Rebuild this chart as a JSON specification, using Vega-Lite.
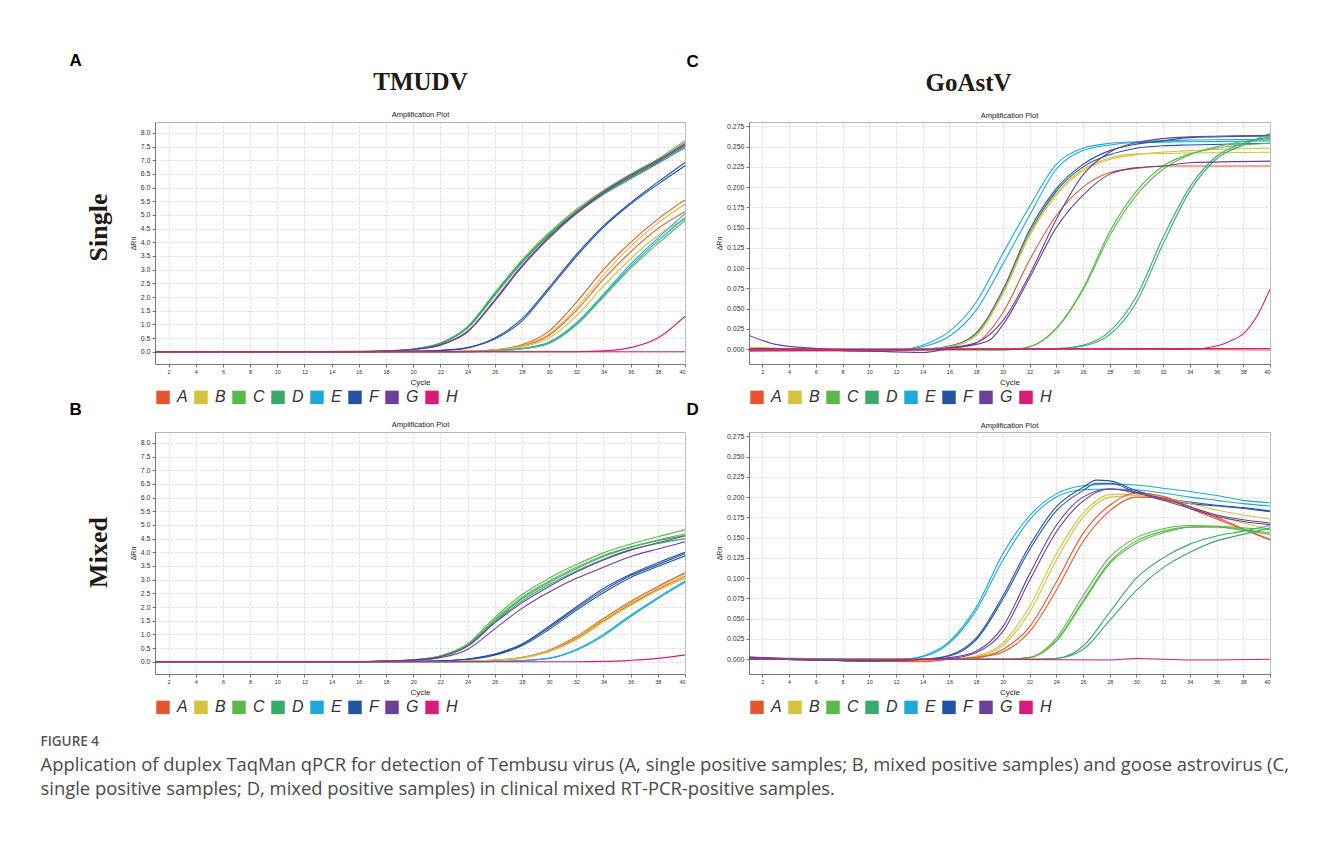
{
"$schema": "https://vega.github.io/schema/vega-lite/v6.json",
"background": "white",
"padding": {"left": 40, "top": 50, "right": 20, "bottom": 20},
"bounds": "flush",
"columns": 2,
"spacing": {"row": 68, "column": 64},
"title": {"text": "FIGURE 4", "subtitle": ["Application of duplex TaqMan qPCR for detection of Tembusu virus (A, single positive samples; B, mixed positive samples) and goose astrovirus (C,", "single positive samples; D, mixed positive samples) in clinical mixed RT-PCR-positive samples."], "orient": "bottom", "anchor": "start", "frame": "bounds", "dx": -28, "font": "Open Sans", "fontSize": 13.5, "fontWeight": 600, "color": "#555", "subtitleFont": "Open Sans", "subtitleFontSize": 18.4, "subtitleColor": "#4a4a4a", "subtitleLineHeight": 24, "subtitlePadding": 8, "offset": 9},
"datasets": {
"tA": [
{"s":"C1","g":"C","c":1,"y":0},{"s":"C1","g":"C","c":12,"y":0},{"s":"C1","g":"C","c":18,"y":0.03},{"s":"C1","g":"C","c":20,"y":0.1},{"s":"C1","g":"C","c":22,"y":0.32},{"s":"C1","g":"C","c":24,"y":0.92},{"s":"C1","g":"C","c":26,"y":2.15},{"s":"C1","g":"C","c":28,"y":3.35},{"s":"C1","g":"C","c":30,"y":4.35},{"s":"C1","g":"C","c":32,"y":5.2},{"s":"C1","g":"C","c":34,"y":5.9},{"s":"C1","g":"C","c":36,"y":6.5},{"s":"C1","g":"C","c":38,"y":7.05},{"s":"C1","g":"C","c":40,"y":7.72},
{"s":"C2","g":"C","c":1,"y":0},{"s":"C2","g":"C","c":16,"y":0},{"s":"C2","g":"C","c":18,"y":0.03},{"s":"C2","g":"C","c":20,"y":0.09},{"s":"C2","g":"C","c":22,"y":0.3},{"s":"C2","g":"C","c":24,"y":0.88},{"s":"C2","g":"C","c":26,"y":2.1},{"s":"C2","g":"C","c":28,"y":3.3},{"s":"C2","g":"C","c":30,"y":4.3},{"s":"C2","g":"C","c":32,"y":5.15},{"s":"C2","g":"C","c":34,"y":5.85},{"s":"C2","g":"C","c":36,"y":6.45},{"s":"C2","g":"C","c":38,"y":7.0},{"s":"C2","g":"C","c":40,"y":7.65},
{"s":"D1","g":"D","c":1,"y":0},{"s":"D1","g":"D","c":16,"y":0},{"s":"D1","g":"D","c":18,"y":0.03},{"s":"D1","g":"D","c":20,"y":0.1},{"s":"D1","g":"D","c":22,"y":0.31},{"s":"D1","g":"D","c":24,"y":0.9},{"s":"D1","g":"D","c":26,"y":2.12},{"s":"D1","g":"D","c":28,"y":3.3},{"s":"D1","g":"D","c":30,"y":4.28},{"s":"D1","g":"D","c":32,"y":5.1},{"s":"D1","g":"D","c":34,"y":5.78},{"s":"D1","g":"D","c":36,"y":6.35},{"s":"D1","g":"D","c":38,"y":6.9},{"s":"D1","g":"D","c":40,"y":7.45},
{"s":"D2","g":"D","c":1,"y":0},{"s":"D2","g":"D","c":16,"y":0},{"s":"D2","g":"D","c":18,"y":0.02},{"s":"D2","g":"D","c":20,"y":0.09},{"s":"D2","g":"D","c":22,"y":0.29},{"s":"D2","g":"D","c":24,"y":0.86},{"s":"D2","g":"D","c":26,"y":2.05},{"s":"D2","g":"D","c":28,"y":3.25},{"s":"D2","g":"D","c":30,"y":4.25},{"s":"D2","g":"D","c":32,"y":5.05},{"s":"D2","g":"D","c":34,"y":5.75},{"s":"D2","g":"D","c":36,"y":6.32},{"s":"D2","g":"D","c":38,"y":6.88},{"s":"D2","g":"D","c":40,"y":7.5},
{"s":"G1","g":"G","c":1,"y":0},{"s":"G1","g":"G","c":16,"y":0},{"s":"G1","g":"G","c":18,"y":0.02},{"s":"G1","g":"G","c":20,"y":0.08},{"s":"G1","g":"G","c":22,"y":0.25},{"s":"G1","g":"G","c":24,"y":0.75},{"s":"G1","g":"G","c":26,"y":1.9},{"s":"G1","g":"G","c":28,"y":3.15},{"s":"G1","g":"G","c":30,"y":4.2},{"s":"G1","g":"G","c":32,"y":5.1},{"s":"G1","g":"G","c":34,"y":5.85},{"s":"G1","g":"G","c":36,"y":6.45},{"s":"G1","g":"G","c":38,"y":7.0},{"s":"G1","g":"G","c":40,"y":7.6},
{"s":"G2","g":"G","c":1,"y":0},{"s":"G2","g":"G","c":16,"y":0},{"s":"G2","g":"G","c":18,"y":0.02},{"s":"G2","g":"G","c":20,"y":0.08},{"s":"G2","g":"G","c":22,"y":0.24},{"s":"G2","g":"G","c":24,"y":0.72},{"s":"G2","g":"G","c":26,"y":1.85},{"s":"G2","g":"G","c":28,"y":3.1},{"s":"G2","g":"G","c":30,"y":4.15},{"s":"G2","g":"G","c":32,"y":5.05},{"s":"G2","g":"G","c":34,"y":5.8},{"s":"G2","g":"G","c":36,"y":6.4},{"s":"G2","g":"G","c":38,"y":6.95},{"s":"G2","g":"G","c":40,"y":7.55},
{"s":"F1","g":"F","c":1,"y":0},{"s":"F1","g":"F","c":18,"y":0},{"s":"F1","g":"F","c":20,"y":0.02},{"s":"F1","g":"F","c":22,"y":0.05},{"s":"F1","g":"F","c":24,"y":0.15},{"s":"F1","g":"F","c":26,"y":0.5},{"s":"F1","g":"F","c":28,"y":1.2},{"s":"F1","g":"F","c":30,"y":2.35},{"s":"F1","g":"F","c":32,"y":3.55},{"s":"F1","g":"F","c":34,"y":4.6},{"s":"F1","g":"F","c":36,"y":5.45},{"s":"F1","g":"F","c":38,"y":6.2},{"s":"F1","g":"F","c":40,"y":6.92},
{"s":"F2","g":"F","c":1,"y":0},{"s":"F2","g":"F","c":18,"y":0},{"s":"F2","g":"F","c":20,"y":0.02},{"s":"F2","g":"F","c":22,"y":0.04},{"s":"F2","g":"F","c":24,"y":0.14},{"s":"F2","g":"F","c":26,"y":0.46},{"s":"F2","g":"F","c":28,"y":1.12},{"s":"F2","g":"F","c":30,"y":2.28},{"s":"F2","g":"F","c":32,"y":3.48},{"s":"F2","g":"F","c":34,"y":4.55},{"s":"F2","g":"F","c":36,"y":5.4},{"s":"F2","g":"F","c":38,"y":6.12},{"s":"F2","g":"F","c":40,"y":6.8},
{"s":"A1","g":"A","c":1,"y":0},{"s":"A1","g":"A","c":22,"y":0},{"s":"A1","g":"A","c":24,"y":0.02},{"s":"A1","g":"A","c":26,"y":0.07},{"s":"A1","g":"A","c":28,"y":0.25},{"s":"A1","g":"A","c":30,"y":0.75},{"s":"A1","g":"A","c":32,"y":1.8},{"s":"A1","g":"A","c":34,"y":3.0},{"s":"A1","g":"A","c":36,"y":4.0},{"s":"A1","g":"A","c":38,"y":4.85},{"s":"A1","g":"A","c":40,"y":5.55},
{"s":"A2","g":"A","c":1,"y":0},{"s":"A2","g":"A","c":22,"y":0},{"s":"A2","g":"A","c":24,"y":0.02},{"s":"A2","g":"A","c":26,"y":0.06},{"s":"A2","g":"A","c":28,"y":0.2},{"s":"A2","g":"A","c":30,"y":0.6},{"s":"A2","g":"A","c":32,"y":1.5},{"s":"A2","g":"A","c":34,"y":2.65},{"s":"A2","g":"A","c":36,"y":3.65},{"s":"A2","g":"A","c":38,"y":4.5},{"s":"A2","g":"A","c":40,"y":5.12},
{"s":"B1","g":"B","c":1,"y":0},{"s":"B1","g":"B","c":22,"y":0},{"s":"B1","g":"B","c":24,"y":0.02},{"s":"B1","g":"B","c":26,"y":0.06},{"s":"B1","g":"B","c":28,"y":0.22},{"s":"B1","g":"B","c":30,"y":0.65},{"s":"B1","g":"B","c":32,"y":1.6},{"s":"B1","g":"B","c":34,"y":2.8},{"s":"B1","g":"B","c":36,"y":3.85},{"s":"B1","g":"B","c":38,"y":4.7},{"s":"B1","g":"B","c":40,"y":5.4},
{"s":"B2","g":"B","c":1,"y":0},{"s":"B2","g":"B","c":24,"y":0},{"s":"B2","g":"B","c":26,"y":0.05},{"s":"B2","g":"B","c":28,"y":0.18},{"s":"B2","g":"B","c":30,"y":0.5},{"s":"B2","g":"B","c":32,"y":1.3},{"s":"B2","g":"B","c":34,"y":2.4},{"s":"B2","g":"B","c":36,"y":3.4},{"s":"B2","g":"B","c":38,"y":4.25},{"s":"B2","g":"B","c":40,"y":4.85},
{"s":"E1","g":"E","c":1,"y":0},{"s":"E1","g":"E","c":24,"y":0},{"s":"E1","g":"E","c":26,"y":0.04},{"s":"E1","g":"E","c":28,"y":0.12},{"s":"E1","g":"E","c":30,"y":0.35},{"s":"E1","g":"E","c":32,"y":1.05},{"s":"E1","g":"E","c":34,"y":2.1},{"s":"E1","g":"E","c":36,"y":3.2},{"s":"E1","g":"E","c":38,"y":4.15},{"s":"E1","g":"E","c":40,"y":5.05},
{"s":"E2","g":"E","c":1,"y":0},{"s":"E2","g":"E","c":24,"y":0},{"s":"E2","g":"E","c":26,"y":0.04},{"s":"E2","g":"E","c":28,"y":0.11},{"s":"E2","g":"E","c":30,"y":0.33},{"s":"E2","g":"E","c":32,"y":1.0},{"s":"E2","g":"E","c":34,"y":2.05},{"s":"E2","g":"E","c":36,"y":3.12},{"s":"E2","g":"E","c":38,"y":4.05},{"s":"E2","g":"E","c":40,"y":4.9},
{"s":"C3","g":"C","c":1,"y":0},{"s":"C3","g":"C","c":24,"y":0},{"s":"C3","g":"C","c":26,"y":0.03},{"s":"C3","g":"C","c":28,"y":0.1},{"s":"C3","g":"C","c":30,"y":0.3},{"s":"C3","g":"C","c":32,"y":0.97},{"s":"C3","g":"C","c":34,"y":2.0},{"s":"C3","g":"C","c":36,"y":3.05},{"s":"C3","g":"C","c":38,"y":3.95},{"s":"C3","g":"C","c":40,"y":4.8},
{"s":"H1","g":"H","c":1,"y":0},{"s":"H1","g":"H","c":32,"y":0},{"s":"H1","g":"H","c":34,"y":0.03},{"s":"H1","g":"H","c":36,"y":0.15},{"s":"H1","g":"H","c":38,"y":0.5},{"s":"H1","g":"H","c":40,"y":1.3},
{"s":"H2","g":"H","c":1,"y":0},{"s":"H2","g":"H","c":40,"y":0},
{"s":"A3","g":"A","c":1,"y":0},{"s":"A3","g":"A","c":18,"y":0}
],
"tB": [
{"s":"C1","g":"C","c":1,"y":0},{"s":"C1","g":"C","c":16,"y":0},{"s":"C1","g":"C","c":18,"y":0.03},{"s":"C1","g":"C","c":20,"y":0.07},{"s":"C1","g":"C","c":22,"y":0.22},{"s":"C1","g":"C","c":24,"y":0.65},{"s":"C1","g":"C","c":26,"y":1.62},{"s":"C1","g":"C","c":28,"y":2.45},{"s":"C1","g":"C","c":30,"y":3.05},{"s":"C1","g":"C","c":32,"y":3.55},{"s":"C1","g":"C","c":34,"y":3.98},{"s":"C1","g":"C","c":36,"y":4.3},{"s":"C1","g":"C","c":38,"y":4.57},{"s":"C1","g":"C","c":40,"y":4.82},
{"s":"C2","g":"C","c":1,"y":0},{"s":"C2","g":"C","c":16,"y":0},{"s":"C2","g":"C","c":18,"y":0.03},{"s":"C2","g":"C","c":20,"y":0.07},{"s":"C2","g":"C","c":22,"y":0.21},{"s":"C2","g":"C","c":24,"y":0.62},{"s":"C2","g":"C","c":26,"y":1.55},{"s":"C2","g":"C","c":28,"y":2.35},{"s":"C2","g":"C","c":30,"y":2.95},{"s":"C2","g":"C","c":32,"y":3.45},{"s":"C2","g":"C","c":34,"y":3.88},{"s":"C2","g":"C","c":36,"y":4.2},{"s":"C2","g":"C","c":38,"y":4.45},{"s":"C2","g":"C","c":40,"y":4.68},
{"s":"D1","g":"D","c":1,"y":0},{"s":"D1","g":"D","c":16,"y":0},{"s":"D1","g":"D","c":18,"y":0.02},{"s":"D1","g":"D","c":20,"y":0.07},{"s":"D1","g":"D","c":22,"y":0.2},{"s":"D1","g":"D","c":24,"y":0.6},{"s":"D1","g":"D","c":26,"y":1.5},{"s":"D1","g":"D","c":28,"y":2.3},{"s":"D1","g":"D","c":30,"y":2.9},{"s":"D1","g":"D","c":32,"y":3.4},{"s":"D1","g":"D","c":34,"y":3.85},{"s":"D1","g":"D","c":36,"y":4.18},{"s":"D1","g":"D","c":38,"y":4.42},{"s":"D1","g":"D","c":40,"y":4.62},
{"s":"D2","g":"D","c":1,"y":0},{"s":"D2","g":"D","c":16,"y":0},{"s":"D2","g":"D","c":18,"y":0.02},{"s":"D2","g":"D","c":20,"y":0.06},{"s":"D2","g":"D","c":22,"y":0.19},{"s":"D2","g":"D","c":24,"y":0.58},{"s":"D2","g":"D","c":26,"y":1.45},{"s":"D2","g":"D","c":28,"y":2.22},{"s":"D2","g":"D","c":30,"y":2.82},{"s":"D2","g":"D","c":32,"y":3.32},{"s":"D2","g":"D","c":34,"y":3.75},{"s":"D2","g":"D","c":36,"y":4.1},{"s":"D2","g":"D","c":38,"y":4.32},{"s":"D2","g":"D","c":40,"y":4.5},
{"s":"G1","g":"G","c":1,"y":0},{"s":"G1","g":"G","c":16,"y":0},{"s":"G1","g":"G","c":18,"y":0.02},{"s":"G1","g":"G","c":20,"y":0.06},{"s":"G1","g":"G","c":22,"y":0.18},{"s":"G1","g":"G","c":24,"y":0.56},{"s":"G1","g":"G","c":26,"y":1.42},{"s":"G1","g":"G","c":28,"y":2.15},{"s":"G1","g":"G","c":30,"y":2.75},{"s":"G1","g":"G","c":32,"y":3.28},{"s":"G1","g":"G","c":34,"y":3.72},{"s":"G1","g":"G","c":36,"y":4.08},{"s":"G1","g":"G","c":38,"y":4.35},{"s":"G1","g":"G","c":40,"y":4.6},
{"s":"G2","g":"G","c":1,"y":0},{"s":"G2","g":"G","c":16,"y":0},{"s":"G2","g":"G","c":18,"y":0.02},{"s":"G2","g":"G","c":20,"y":0.05},{"s":"G2","g":"G","c":22,"y":0.15},{"s":"G2","g":"G","c":24,"y":0.45},{"s":"G2","g":"G","c":26,"y":1.2},{"s":"G2","g":"G","c":28,"y":1.95},{"s":"G2","g":"G","c":30,"y":2.55},{"s":"G2","g":"G","c":32,"y":3.05},{"s":"G2","g":"G","c":34,"y":3.45},{"s":"G2","g":"G","c":36,"y":3.85},{"s":"G2","g":"G","c":38,"y":4.12},{"s":"G2","g":"G","c":40,"y":4.38},
{"s":"F1","g":"F","c":1,"y":0},{"s":"F1","g":"F","c":18,"y":0},{"s":"F1","g":"F","c":20,"y":0.01},{"s":"F1","g":"F","c":22,"y":0.03},{"s":"F1","g":"F","c":24,"y":0.1},{"s":"F1","g":"F","c":26,"y":0.28},{"s":"F1","g":"F","c":28,"y":0.65},{"s":"F1","g":"F","c":30,"y":1.3},{"s":"F1","g":"F","c":32,"y":2.0},{"s":"F1","g":"F","c":34,"y":2.68},{"s":"F1","g":"F","c":36,"y":3.2},{"s":"F1","g":"F","c":38,"y":3.62},{"s":"F1","g":"F","c":40,"y":4.0},
{"s":"F2","g":"F","c":1,"y":0},{"s":"F2","g":"F","c":18,"y":0},{"s":"F2","g":"F","c":20,"y":0.01},{"s":"F2","g":"F","c":22,"y":0.03},{"s":"F2","g":"F","c":24,"y":0.09},{"s":"F2","g":"F","c":26,"y":0.26},{"s":"F2","g":"F","c":28,"y":0.62},{"s":"F2","g":"F","c":30,"y":1.25},{"s":"F2","g":"F","c":32,"y":1.95},{"s":"F2","g":"F","c":34,"y":2.6},{"s":"F2","g":"F","c":36,"y":3.15},{"s":"F2","g":"F","c":38,"y":3.55},{"s":"F2","g":"F","c":40,"y":3.95},
{"s":"F3","g":"F","c":1,"y":0},{"s":"F3","g":"F","c":18,"y":0},{"s":"F3","g":"F","c":20,"y":0.01},{"s":"F3","g":"F","c":22,"y":0.03},{"s":"F3","g":"F","c":24,"y":0.08},{"s":"F3","g":"F","c":26,"y":0.24},{"s":"F3","g":"F","c":28,"y":0.58},{"s":"F3","g":"F","c":30,"y":1.18},{"s":"F3","g":"F","c":32,"y":1.88},{"s":"F3","g":"F","c":34,"y":2.52},{"s":"F3","g":"F","c":36,"y":3.08},{"s":"F3","g":"F","c":38,"y":3.48},{"s":"F3","g":"F","c":40,"y":3.87},
{"s":"A1","g":"A","c":1,"y":0},{"s":"A1","g":"A","c":22,"y":0},{"s":"A1","g":"A","c":24,"y":0.02},{"s":"A1","g":"A","c":26,"y":0.06},{"s":"A1","g":"A","c":28,"y":0.16},{"s":"A1","g":"A","c":30,"y":0.42},{"s":"A1","g":"A","c":32,"y":0.92},{"s":"A1","g":"A","c":34,"y":1.58},{"s":"A1","g":"A","c":36,"y":2.2},{"s":"A1","g":"A","c":38,"y":2.75},{"s":"A1","g":"A","c":40,"y":3.25},
{"s":"A2","g":"A","c":1,"y":0},{"s":"A2","g":"A","c":22,"y":0},{"s":"A2","g":"A","c":24,"y":0.02},{"s":"A2","g":"A","c":26,"y":0.05},{"s":"A2","g":"A","c":28,"y":0.14},{"s":"A2","g":"A","c":30,"y":0.38},{"s":"A2","g":"A","c":32,"y":0.85},{"s":"A2","g":"A","c":34,"y":1.5},{"s":"A2","g":"A","c":36,"y":2.1},{"s":"A2","g":"A","c":38,"y":2.65},{"s":"A2","g":"A","c":40,"y":3.12},
{"s":"B1","g":"B","c":1,"y":0},{"s":"B1","g":"B","c":22,"y":0},{"s":"B1","g":"B","c":24,"y":0.02},{"s":"B1","g":"B","c":26,"y":0.05},{"s":"B1","g":"B","c":28,"y":0.15},{"s":"B1","g":"B","c":30,"y":0.4},{"s":"B1","g":"B","c":32,"y":0.88},{"s":"B1","g":"B","c":34,"y":1.53},{"s":"B1","g":"B","c":36,"y":2.15},{"s":"B1","g":"B","c":38,"y":2.7},{"s":"B1","g":"B","c":40,"y":3.2},
{"s":"B2","g":"B","c":1,"y":0},{"s":"B2","g":"B","c":22,"y":0},{"s":"B2","g":"B","c":24,"y":0.02},{"s":"B2","g":"B","c":26,"y":0.05},{"s":"B2","g":"B","c":28,"y":0.13},{"s":"B2","g":"B","c":30,"y":0.36},{"s":"B2","g":"B","c":32,"y":0.8},{"s":"B2","g":"B","c":34,"y":1.45},{"s":"B2","g":"B","c":36,"y":2.05},{"s":"B2","g":"B","c":38,"y":2.6},{"s":"B2","g":"B","c":40,"y":3.05},
{"s":"E1","g":"E","c":1,"y":0},{"s":"E1","g":"E","c":24,"y":0},{"s":"E1","g":"E","c":26,"y":0.01},{"s":"E1","g":"E","c":28,"y":0.04},{"s":"E1","g":"E","c":30,"y":0.13},{"s":"E1","g":"E","c":32,"y":0.45},{"s":"E1","g":"E","c":34,"y":1.0},{"s":"E1","g":"E","c":36,"y":1.7},{"s":"E1","g":"E","c":38,"y":2.35},{"s":"E1","g":"E","c":40,"y":2.95},
{"s":"E2","g":"E","c":1,"y":0},{"s":"E2","g":"E","c":24,"y":0},{"s":"E2","g":"E","c":26,"y":0.01},{"s":"E2","g":"E","c":28,"y":0.04},{"s":"E2","g":"E","c":30,"y":0.12},{"s":"E2","g":"E","c":32,"y":0.42},{"s":"E2","g":"E","c":34,"y":0.95},{"s":"E2","g":"E","c":36,"y":1.65},{"s":"E2","g":"E","c":38,"y":2.3},{"s":"E2","g":"E","c":40,"y":2.9},
{"s":"H1","g":"H","c":1,"y":0},{"s":"H1","g":"H","c":32,"y":0},{"s":"H1","g":"H","c":34,"y":0.01},{"s":"H1","g":"H","c":36,"y":0.05},{"s":"H1","g":"H","c":38,"y":0.12},{"s":"H1","g":"H","c":40,"y":0.25},
{"s":"A3","g":"A","c":1,"y":0},{"s":"A3","g":"A","c":18,"y":0}
],
"tC": [
{"s":"E1","g":"E","c":1,"y":0.002},{"s":"E1","g":"E","c":6,"y":0},{"s":"E1","g":"E","c":10,"y":-0.002},{"s":"E1","g":"E","c":12,"y":-0.001},{"s":"E1","g":"E","c":14,"y":0.005},{"s":"E1","g":"E","c":16,"y":0.022},{"s":"E1","g":"E","c":18,"y":0.058},{"s":"E1","g":"E","c":20,"y":0.118},{"s":"E1","g":"E","c":22,"y":0.176},{"s":"E1","g":"E","c":24,"y":0.228},{"s":"E1","g":"E","c":26,"y":0.248},{"s":"E1","g":"E","c":28,"y":0.254},{"s":"E1","g":"E","c":30,"y":0.256},{"s":"E1","g":"E","c":34,"y":0.258},{"s":"E1","g":"E","c":40,"y":0.259},
{"s":"E2","g":"E","c":1,"y":0.001},{"s":"E2","g":"E","c":10,"y":-0.002},{"s":"E2","g":"E","c":12,"y":-0.001},{"s":"E2","g":"E","c":14,"y":0.003},{"s":"E2","g":"E","c":16,"y":0.016},{"s":"E2","g":"E","c":18,"y":0.048},{"s":"E2","g":"E","c":20,"y":0.105},{"s":"E2","g":"E","c":22,"y":0.165},{"s":"E2","g":"E","c":24,"y":0.222},{"s":"E2","g":"E","c":26,"y":0.245},{"s":"E2","g":"E","c":28,"y":0.252},{"s":"E2","g":"E","c":30,"y":0.255},{"s":"E2","g":"E","c":34,"y":0.256},{"s":"E2","g":"E","c":40,"y":0.257},
{"s":"F1","g":"F","c":1,"y":0.001},{"s":"F1","g":"F","c":10,"y":-0.002},{"s":"F1","g":"F","c":14,"y":0},{"s":"F1","g":"F","c":16,"y":0.004},{"s":"F1","g":"F","c":18,"y":0.02},{"s":"F1","g":"F","c":20,"y":0.073},{"s":"F1","g":"F","c":22,"y":0.147},{"s":"F1","g":"F","c":24,"y":0.198},{"s":"F1","g":"F","c":26,"y":0.228},{"s":"F1","g":"F","c":28,"y":0.245},{"s":"F1","g":"F","c":30,"y":0.253},{"s":"F1","g":"F","c":32,"y":0.257},{"s":"F1","g":"F","c":34,"y":0.261},{"s":"F1","g":"F","c":40,"y":0.263},
{"s":"F2","g":"F","c":1,"y":0.001},{"s":"F2","g":"F","c":10,"y":-0.002},{"s":"F2","g":"F","c":14,"y":0},{"s":"F2","g":"F","c":16,"y":0.003},{"s":"F2","g":"F","c":18,"y":0.018},{"s":"F2","g":"F","c":20,"y":0.07},{"s":"F2","g":"F","c":22,"y":0.143},{"s":"F2","g":"F","c":24,"y":0.195},{"s":"F2","g":"F","c":26,"y":0.225},{"s":"F2","g":"F","c":28,"y":0.24},{"s":"F2","g":"F","c":30,"y":0.248},{"s":"F2","g":"F","c":32,"y":0.251},{"s":"F2","g":"F","c":34,"y":0.252},{"s":"F2","g":"F","c":40,"y":0.254},
{"s":"B1","g":"B","c":1,"y":0.002},{"s":"B1","g":"B","c":10,"y":-0.001},{"s":"B1","g":"B","c":14,"y":0},{"s":"B1","g":"B","c":16,"y":0.003},{"s":"B1","g":"B","c":18,"y":0.018},{"s":"B1","g":"B","c":20,"y":0.07},{"s":"B1","g":"B","c":22,"y":0.142},{"s":"B1","g":"B","c":24,"y":0.192},{"s":"B1","g":"B","c":26,"y":0.222},{"s":"B1","g":"B","c":28,"y":0.236},{"s":"B1","g":"B","c":30,"y":0.241},{"s":"B1","g":"B","c":34,"y":0.242},{"s":"B1","g":"B","c":40,"y":0.243},
{"s":"B2","g":"B","c":1,"y":0.002},{"s":"B2","g":"B","c":10,"y":-0.001},{"s":"B2","g":"B","c":14,"y":0},{"s":"B2","g":"B","c":16,"y":0.003},{"s":"B2","g":"B","c":18,"y":0.017},{"s":"B2","g":"B","c":20,"y":0.068},{"s":"B2","g":"B","c":22,"y":0.14},{"s":"B2","g":"B","c":24,"y":0.19},{"s":"B2","g":"B","c":26,"y":0.22},{"s":"B2","g":"B","c":28,"y":0.234},{"s":"B2","g":"B","c":30,"y":0.24},{"s":"B2","g":"B","c":34,"y":0.245},{"s":"B2","g":"B","c":40,"y":0.248},
{"s":"A1","g":"A","c":1,"y":-0.002},{"s":"A1","g":"A","c":10,"y":-0.002},{"s":"A1","g":"A","c":14,"y":0},{"s":"A1","g":"A","c":16,"y":0.001},{"s":"A1","g":"A","c":18,"y":0.008},{"s":"A1","g":"A","c":20,"y":0.045},{"s":"A1","g":"A","c":22,"y":0.11},{"s":"A1","g":"A","c":24,"y":0.165},{"s":"A1","g":"A","c":26,"y":0.2},{"s":"A1","g":"A","c":28,"y":0.218},{"s":"A1","g":"A","c":30,"y":0.223},{"s":"A1","g":"A","c":32,"y":0.226},{"s":"A1","g":"A","c":40,"y":0.226},
{"s":"G1","g":"G","c":1,"y":0.017},{"s":"G1","g":"G","c":3,"y":0.006},{"s":"G1","g":"G","c":6,"y":0.001},{"s":"G1","g":"G","c":10,"y":-0.002},{"s":"G1","g":"G","c":14,"y":-0.004},{"s":"G1","g":"G","c":16,"y":0.001},{"s":"G1","g":"G","c":18,"y":0.006},{"s":"G1","g":"G","c":19,"y":0.011},{"s":"G1","g":"G","c":20,"y":0.03},{"s":"G1","g":"G","c":22,"y":0.088},{"s":"G1","g":"G","c":24,"y":0.15},{"s":"G1","g":"G","c":26,"y":0.19},{"s":"G1","g":"G","c":28,"y":0.216},{"s":"G1","g":"G","c":30,"y":0.224},{"s":"G1","g":"G","c":32,"y":0.226},{"s":"G1","g":"G","c":34,"y":0.23},{"s":"G1","g":"G","c":40,"y":0.232},
{"s":"G2","g":"G","c":1,"y":0.001},{"s":"G2","g":"G","c":14,"y":-0.001},{"s":"G2","g":"G","c":16,"y":0.002},{"s":"G2","g":"G","c":18,"y":0.008},{"s":"G2","g":"G","c":20,"y":0.035},{"s":"G2","g":"G","c":22,"y":0.092},{"s":"G2","g":"G","c":24,"y":0.16},{"s":"G2","g":"G","c":26,"y":0.215},{"s":"G2","g":"G","c":28,"y":0.243},{"s":"G2","g":"G","c":30,"y":0.255},{"s":"G2","g":"G","c":34,"y":0.262},{"s":"G2","g":"G","c":40,"y":0.264},
{"s":"C1","g":"C","c":1,"y":0},{"s":"C1","g":"C","c":20,"y":-0.001},{"s":"C1","g":"C","c":22,"y":0.003},{"s":"C1","g":"C","c":24,"y":0.026},{"s":"C1","g":"C","c":26,"y":0.075},{"s":"C1","g":"C","c":28,"y":0.145},{"s":"C1","g":"C","c":30,"y":0.195},{"s":"C1","g":"C","c":32,"y":0.226},{"s":"C1","g":"C","c":34,"y":0.241},{"s":"C1","g":"C","c":36,"y":0.248},{"s":"C1","g":"C","c":40,"y":0.254},
{"s":"C2","g":"C","c":1,"y":0},{"s":"C2","g":"C","c":20,"y":-0.001},{"s":"C2","g":"C","c":22,"y":0.003},{"s":"C2","g":"C","c":24,"y":0.025},{"s":"C2","g":"C","c":26,"y":0.073},{"s":"C2","g":"C","c":28,"y":0.14},{"s":"C2","g":"C","c":30,"y":0.19},{"s":"C2","g":"C","c":32,"y":0.222},{"s":"C2","g":"C","c":34,"y":0.24},{"s":"C2","g":"C","c":36,"y":0.25},{"s":"C2","g":"C","c":40,"y":0.26},
{"s":"D1","g":"D","c":1,"y":0},{"s":"D1","g":"D","c":24,"y":0.001},{"s":"D1","g":"D","c":26,"y":0.005},{"s":"D1","g":"D","c":28,"y":0.022},{"s":"D1","g":"D","c":30,"y":0.065},{"s":"D1","g":"D","c":32,"y":0.138},{"s":"D1","g":"D","c":34,"y":0.2},{"s":"D1","g":"D","c":36,"y":0.238},{"s":"D1","g":"D","c":38,"y":0.254},{"s":"D1","g":"D","c":40,"y":0.262},
{"s":"D2","g":"D","c":1,"y":0},{"s":"D2","g":"D","c":24,"y":0},{"s":"D2","g":"D","c":26,"y":0.004},{"s":"D2","g":"D","c":28,"y":0.018},{"s":"D2","g":"D","c":30,"y":0.058},{"s":"D2","g":"D","c":32,"y":0.13},{"s":"D2","g":"D","c":34,"y":0.195},{"s":"D2","g":"D","c":36,"y":0.235},{"s":"D2","g":"D","c":38,"y":0.252},{"s":"D2","g":"D","c":40,"y":0.266},
{"s":"H1","g":"H","c":1,"y":0},{"s":"H1","g":"H","c":34,"y":0},{"s":"H1","g":"H","c":36,"y":0.004},{"s":"H1","g":"H","c":37,"y":0.01},{"s":"H1","g":"H","c":38,"y":0.019},{"s":"H1","g":"H","c":39,"y":0.04},{"s":"H1","g":"H","c":40,"y":0.074},
{"s":"H2","g":"H","c":1,"y":-0.002},{"s":"H2","g":"H","c":20,"y":0},{"s":"H2","g":"H","c":30,"y":0.001},{"s":"H2","g":"H","c":40,"y":0.001},
{"s":"A2","g":"A","c":1,"y":-0.001},{"s":"A2","g":"A","c":20,"y":0.001},{"s":"A2","g":"A","c":30,"y":0},{"s":"A2","g":"A","c":40,"y":-0.001}
],
"tD": [
{"s":"E1","g":"E","c":1,"y":0.002},{"s":"E1","g":"E","c":8,"y":0},{"s":"E1","g":"E","c":10,"y":-0.002},{"s":"E1","g":"E","c":12,"y":-0.001},{"s":"E1","g":"E","c":14,"y":0.004},{"s":"E1","g":"E","c":16,"y":0.022},{"s":"E1","g":"E","c":18,"y":0.064},{"s":"E1","g":"E","c":20,"y":0.13},{"s":"E1","g":"E","c":22,"y":0.177},{"s":"E1","g":"E","c":24,"y":0.204},{"s":"E1","g":"E","c":26,"y":0.214},{"s":"E1","g":"E","c":28,"y":0.216},{"s":"E1","g":"E","c":30,"y":0.215},{"s":"E1","g":"E","c":32,"y":0.211},{"s":"E1","g":"E","c":34,"y":0.207},{"s":"E1","g":"E","c":36,"y":0.202},{"s":"E1","g":"E","c":38,"y":0.196},{"s":"E1","g":"E","c":40,"y":0.193},
{"s":"E2","g":"E","c":1,"y":0.001},{"s":"E2","g":"E","c":10,"y":-0.002},{"s":"E2","g":"E","c":12,"y":-0.001},{"s":"E2","g":"E","c":14,"y":0.003},{"s":"E2","g":"E","c":16,"y":0.02},{"s":"E2","g":"E","c":18,"y":0.06},{"s":"E2","g":"E","c":20,"y":0.122},{"s":"E2","g":"E","c":22,"y":0.172},{"s":"E2","g":"E","c":24,"y":0.2},{"s":"E2","g":"E","c":26,"y":0.209},{"s":"E2","g":"E","c":28,"y":0.21},{"s":"E2","g":"E","c":30,"y":0.209},{"s":"E2","g":"E","c":32,"y":0.205},{"s":"E2","g":"E","c":34,"y":0.2},{"s":"E2","g":"E","c":36,"y":0.196},{"s":"E2","g":"E","c":38,"y":0.192},{"s":"E2","g":"E","c":40,"y":0.189},
{"s":"F1","g":"F","c":1,"y":0.003},{"s":"F1","g":"F","c":10,"y":-0.002},{"s":"F1","g":"F","c":14,"y":0},{"s":"F1","g":"F","c":16,"y":0.005},{"s":"F1","g":"F","c":18,"y":0.026},{"s":"F1","g":"F","c":20,"y":0.078},{"s":"F1","g":"F","c":22,"y":0.14},{"s":"F1","g":"F","c":24,"y":0.188},{"s":"F1","g":"F","c":26,"y":0.212},{"s":"F1","g":"F","c":27,"y":0.221},{"s":"F1","g":"F","c":28,"y":0.22},{"s":"F1","g":"F","c":30,"y":0.208},{"s":"F1","g":"F","c":32,"y":0.199},{"s":"F1","g":"F","c":34,"y":0.194},{"s":"F1","g":"F","c":36,"y":0.19},{"s":"F1","g":"F","c":38,"y":0.187},{"s":"F1","g":"F","c":40,"y":0.183},
{"s":"F2","g":"F","c":1,"y":0.002},{"s":"F2","g":"F","c":10,"y":-0.002},{"s":"F2","g":"F","c":14,"y":0},{"s":"F2","g":"F","c":16,"y":0.004},{"s":"F2","g":"F","c":18,"y":0.024},{"s":"F2","g":"F","c":20,"y":0.074},{"s":"F2","g":"F","c":22,"y":0.135},{"s":"F2","g":"F","c":24,"y":0.183},{"s":"F2","g":"F","c":26,"y":0.208},{"s":"F2","g":"F","c":27,"y":0.217},{"s":"F2","g":"F","c":28,"y":0.217},{"s":"F2","g":"F","c":30,"y":0.206},{"s":"F2","g":"F","c":32,"y":0.197},{"s":"F2","g":"F","c":34,"y":0.192},{"s":"F2","g":"F","c":36,"y":0.189},{"s":"F2","g":"F","c":38,"y":0.186},{"s":"F2","g":"F","c":40,"y":0.182},
{"s":"G1","g":"G","c":1,"y":0.002},{"s":"G1","g":"G","c":10,"y":-0.002},{"s":"G1","g":"G","c":14,"y":0},{"s":"G1","g":"G","c":16,"y":0.002},{"s":"G1","g":"G","c":18,"y":0.01},{"s":"G1","g":"G","c":20,"y":0.04},{"s":"G1","g":"G","c":22,"y":0.105},{"s":"G1","g":"G","c":24,"y":0.165},{"s":"G1","g":"G","c":26,"y":0.2},{"s":"G1","g":"G","c":28,"y":0.21},{"s":"G1","g":"G","c":30,"y":0.206},{"s":"G1","g":"G","c":32,"y":0.198},{"s":"G1","g":"G","c":34,"y":0.188},{"s":"G1","g":"G","c":36,"y":0.178},{"s":"G1","g":"G","c":38,"y":0.172},{"s":"G1","g":"G","c":40,"y":0.168},
{"s":"G2","g":"G","c":1,"y":0.001},{"s":"G2","g":"G","c":10,"y":-0.002},{"s":"G2","g":"G","c":14,"y":0},{"s":"G2","g":"G","c":16,"y":0.001},{"s":"G2","g":"G","c":18,"y":0.008},{"s":"G2","g":"G","c":20,"y":0.034},{"s":"G2","g":"G","c":22,"y":0.097},{"s":"G2","g":"G","c":24,"y":0.157},{"s":"G2","g":"G","c":26,"y":0.195},{"s":"G2","g":"G","c":28,"y":0.21},{"s":"G2","g":"G","c":30,"y":0.205},{"s":"G2","g":"G","c":32,"y":0.196},{"s":"G2","g":"G","c":34,"y":0.186},{"s":"G2","g":"G","c":36,"y":0.176},{"s":"G2","g":"G","c":38,"y":0.17},{"s":"G2","g":"G","c":40,"y":0.166},
{"s":"B1","g":"B","c":1,"y":0.001},{"s":"B1","g":"B","c":10,"y":-0.002},{"s":"B1","g":"B","c":16,"y":0},{"s":"B1","g":"B","c":18,"y":0.004},{"s":"B1","g":"B","c":20,"y":0.02},{"s":"B1","g":"B","c":22,"y":0.065},{"s":"B1","g":"B","c":24,"y":0.13},{"s":"B1","g":"B","c":26,"y":0.18},{"s":"B1","g":"B","c":28,"y":0.203},{"s":"B1","g":"B","c":30,"y":0.204},{"s":"B1","g":"B","c":32,"y":0.2},{"s":"B1","g":"B","c":34,"y":0.192},{"s":"B1","g":"B","c":36,"y":0.184},{"s":"B1","g":"B","c":38,"y":0.178},{"s":"B1","g":"B","c":40,"y":0.173},
{"s":"B2","g":"B","c":1,"y":0.001},{"s":"B2","g":"B","c":10,"y":-0.002},{"s":"B2","g":"B","c":16,"y":0},{"s":"B2","g":"B","c":18,"y":0.003},{"s":"B2","g":"B","c":20,"y":0.017},{"s":"B2","g":"B","c":22,"y":0.058},{"s":"B2","g":"B","c":24,"y":0.122},{"s":"B2","g":"B","c":26,"y":0.175},{"s":"B2","g":"B","c":28,"y":0.2},{"s":"B2","g":"B","c":30,"y":0.202},{"s":"B2","g":"B","c":32,"y":0.197},{"s":"B2","g":"B","c":34,"y":0.188},{"s":"B2","g":"B","c":36,"y":0.178},{"s":"B2","g":"B","c":38,"y":0.168},{"s":"B2","g":"B","c":40,"y":0.16},
{"s":"A1","g":"A","c":1,"y":0.002},{"s":"A1","g":"A","c":10,"y":-0.002},{"s":"A1","g":"A","c":14,"y":-0.003},{"s":"A1","g":"A","c":16,"y":0},{"s":"A1","g":"A","c":18,"y":0.002},{"s":"A1","g":"A","c":20,"y":0.012},{"s":"A1","g":"A","c":22,"y":0.04},{"s":"A1","g":"A","c":24,"y":0.095},{"s":"A1","g":"A","c":26,"y":0.155},{"s":"A1","g":"A","c":28,"y":0.19},{"s":"A1","g":"A","c":30,"y":0.205},{"s":"A1","g":"A","c":32,"y":0.201},{"s":"A1","g":"A","c":34,"y":0.188},{"s":"A1","g":"A","c":36,"y":0.175},{"s":"A1","g":"A","c":38,"y":0.161},{"s":"A1","g":"A","c":40,"y":0.148},
{"s":"A2","g":"A","c":1,"y":0.001},{"s":"A2","g":"A","c":10,"y":-0.002},{"s":"A2","g":"A","c":16,"y":0},{"s":"A2","g":"A","c":18,"y":0.002},{"s":"A2","g":"A","c":20,"y":0.009},{"s":"A2","g":"A","c":22,"y":0.034},{"s":"A2","g":"A","c":24,"y":0.085},{"s":"A2","g":"A","c":26,"y":0.145},{"s":"A2","g":"A","c":28,"y":0.183},{"s":"A2","g":"A","c":30,"y":0.2},{"s":"A2","g":"A","c":32,"y":0.199},{"s":"A2","g":"A","c":34,"y":0.186},{"s":"A2","g":"A","c":36,"y":0.173},{"s":"A2","g":"A","c":38,"y":0.16},{"s":"A2","g":"A","c":40,"y":0.147},
{"s":"C1","g":"C","c":1,"y":0},{"s":"C1","g":"C","c":20,"y":0},{"s":"C1","g":"C","c":22,"y":0.002},{"s":"C1","g":"C","c":24,"y":0.026},{"s":"C1","g":"C","c":26,"y":0.078},{"s":"C1","g":"C","c":28,"y":0.126},{"s":"C1","g":"C","c":30,"y":0.15},{"s":"C1","g":"C","c":32,"y":0.161},{"s":"C1","g":"C","c":34,"y":0.165},{"s":"C1","g":"C","c":36,"y":0.164},{"s":"C1","g":"C","c":38,"y":0.16},{"s":"C1","g":"C","c":40,"y":0.156},
{"s":"C2","g":"C","c":1,"y":0},{"s":"C2","g":"C","c":20,"y":0},{"s":"C2","g":"C","c":22,"y":0.002},{"s":"C2","g":"C","c":24,"y":0.023},{"s":"C2","g":"C","c":26,"y":0.072},{"s":"C2","g":"C","c":28,"y":0.12},{"s":"C2","g":"C","c":30,"y":0.146},{"s":"C2","g":"C","c":32,"y":0.158},{"s":"C2","g":"C","c":34,"y":0.163},{"s":"C2","g":"C","c":36,"y":0.163},{"s":"C2","g":"C","c":38,"y":0.159},{"s":"C2","g":"C","c":40,"y":0.154},
{"s":"C3","g":"C","c":1,"y":0},{"s":"C3","g":"C","c":20,"y":0},{"s":"C3","g":"C","c":22,"y":0.002},{"s":"C3","g":"C","c":24,"y":0.022},{"s":"C3","g":"C","c":26,"y":0.07},{"s":"C3","g":"C","c":28,"y":0.118},{"s":"C3","g":"C","c":30,"y":0.143},{"s":"C3","g":"C","c":32,"y":0.156},{"s":"C3","g":"C","c":34,"y":0.163},{"s":"C3","g":"C","c":36,"y":0.164},{"s":"C3","g":"C","c":38,"y":0.162},{"s":"C3","g":"C","c":40,"y":0.16},
{"s":"D1","g":"D","c":1,"y":0},{"s":"D1","g":"D","c":22,"y":0},{"s":"D1","g":"D","c":24,"y":0.001},{"s":"D1","g":"D","c":26,"y":0.016},{"s":"D1","g":"D","c":28,"y":0.058},{"s":"D1","g":"D","c":30,"y":0.1},{"s":"D1","g":"D","c":32,"y":0.125},{"s":"D1","g":"D","c":34,"y":0.142},{"s":"D1","g":"D","c":36,"y":0.152},{"s":"D1","g":"D","c":38,"y":0.158},{"s":"D1","g":"D","c":40,"y":0.165},
{"s":"D2","g":"D","c":1,"y":0},{"s":"D2","g":"D","c":22,"y":0},{"s":"D2","g":"D","c":24,"y":0.001},{"s":"D2","g":"D","c":26,"y":0.012},{"s":"D2","g":"D","c":28,"y":0.048},{"s":"D2","g":"D","c":30,"y":0.085},{"s":"D2","g":"D","c":32,"y":0.113},{"s":"D2","g":"D","c":34,"y":0.132},{"s":"D2","g":"D","c":36,"y":0.146},{"s":"D2","g":"D","c":38,"y":0.154},{"s":"D2","g":"D","c":40,"y":0.162},
{"s":"H1","g":"H","c":1,"y":0},{"s":"H1","g":"H","c":10,"y":0},{"s":"H1","g":"H","c":20,"y":0},{"s":"H1","g":"H","c":28,"y":-0.001},{"s":"H1","g":"H","c":30,"y":0.001},{"s":"H1","g":"H","c":34,"y":-0.001},{"s":"H1","g":"H","c":40,"y":0}
]
},
"concat": [
{"width": 530, "height": 242, "data": {"name": "tA"},
 "layer": [
  {"transform": [{"filter": "datum.g != 'G' && datum.g != 'H'"}],
   "mark": {"type": "line", "strokeWidth": 1.1, "interpolate": "monotone", "clip": true},
   "encoding": {
     "x": {"field": "c", "type": "quantitative", "scale": {"domain": [1, 40], "nice": false, "zero": false}, "axis": {"title": "Cycle", "values": [2,4,6,8,10,12,14,16,18,20,22,24,26,28,30,32,34,36,38,40]}},
     "y": {"field": "y", "type": "quantitative", "scale": {"domain": [-0.45, 8.4], "nice": false, "zero": false}, "axis": {"title": "ΔRn", "values": [0,0.5,1,1.5,2,2.5,3,3.5,4,4.5,5,5.5,6,6.5,7,7.5,8], "format": ".1f"}},
     "color": {"field": "g", "type": "nominal", "scale": {"domain": ["A","B","C","D","E","F","G","H"], "range": ["#e4572e","#d3c33d","#5db84b","#3aaa6b","#20a9d8","#2553a3","#6c3f98","#d81c79"]}, "legend": {"encode": {"symbols": {"update": {"strokeWidth": {"value": 7}, "opacity": {"value": 1}}}}}},
     "detail": {"field": "s"}}},
  {"transform": [{"filter": "datum.g == 'G'"}],
   "mark": {"type": "line", "strokeWidth": 1.1, "interpolate": "monotone", "clip": true},
   "encoding": {
     "x": {"field": "c", "type": "quantitative", "axis": {"orient": "top", "title": "TMUDV", "labels": false, "ticks": false, "domain": false, "grid": false, "titleX": 265, "titleY": -33, "titleAlign": "center", "titleBaseline": "alphabetic", "titleAngle": 0, "titleFont": "Liberation Serif", "titleFontSize": 25, "titleFontWeight": "bold", "titleColor": "#231815"}},
     "y": {"field": "y", "type": "quantitative", "axis": {"orient": "left", "title": "Single", "labels": false, "ticks": false, "domain": false, "grid": false, "titleX": -49, "titleY": 105, "titleAlign": "center", "titleBaseline": "alphabetic", "titleAngle": -90, "titleFont": "Liberation Serif", "titleFontSize": 26, "titleFontWeight": "bold", "titleColor": "#231815"}},
     "color": {"field": "g", "type": "nominal"},
     "detail": {"field": "s"}}},
  {"transform": [{"filter": "datum.g == 'H'"}],
   "mark": {"type": "line", "strokeWidth": 1.1, "interpolate": "monotone", "clip": true},
   "encoding": {
     "x": {"field": "c", "type": "quantitative", "axis": {"orient": "top", "title": "Amplification Plot", "labels": false, "ticks": false, "domain": false, "grid": false, "titleX": 265, "titleY": -6, "titleAlign": "center", "titleBaseline": "alphabetic", "titleAngle": 0, "titleFont": "Liberation Sans", "titleFontSize": 7.5, "titleFontWeight": "normal", "titleColor": "#222"}},
     "y": {"field": "y", "type": "quantitative", "axis": {"orient": "left", "title": "A", "labels": false, "ticks": false, "domain": false, "grid": false, "titleX": -86, "titleY": -57, "titleAlign": "left", "titleBaseline": "alphabetic", "titleAngle": 0, "titleFont": "Liberation Sans", "titleFontSize": 17, "titleFontWeight": "bold", "titleColor": "#000"}},
     "color": {"field": "g", "type": "nominal"},
     "detail": {"field": "s"}}}
 ],
 "resolve": {"axis": {"x": "independent", "y": "independent"}}},
{"width": 521, "height": 242, "data": {"name": "tC"},
 "layer": [
  {"transform": [{"filter": "datum.g != 'G' && datum.g != 'H'"}],
   "mark": {"type": "line", "strokeWidth": 1.1, "interpolate": "monotone", "clip": true},
   "encoding": {
     "x": {"field": "c", "type": "quantitative", "scale": {"domain": [1, 40], "nice": false, "zero": false}, "axis": {"title": "Cycle", "values": [2,4,6,8,10,12,14,16,18,20,22,24,26,28,30,32,34,36,38,40]}},
     "y": {"field": "y", "type": "quantitative", "scale": {"domain": [-0.0182, 0.2803], "nice": false, "zero": false}, "axis": {"title": "ΔRn", "values": [0,0.025,0.05,0.075,0.1,0.125,0.15,0.175,0.2,0.225,0.25,0.275], "format": ".3f"}},
     "color": {"field": "g", "type": "nominal", "scale": {"domain": ["A","B","C","D","E","F","G","H"], "range": ["#e4572e","#d3c33d","#5db84b","#3aaa6b","#20a9d8","#2553a3","#6c3f98","#d81c79"]}, "legend": {"encode": {"symbols": {"update": {"strokeWidth": {"value": 7}, "opacity": {"value": 1}}}}}},
     "detail": {"field": "s"}}},
  {"transform": [{"filter": "datum.g == 'G'"}],
   "mark": {"type": "line", "strokeWidth": 1.1, "interpolate": "monotone", "clip": true},
   "encoding": {
     "x": {"field": "c", "type": "quantitative", "axis": {"orient": "top", "title": "GoAstV", "labels": false, "ticks": false, "domain": false, "grid": false, "titleX": 219, "titleY": -32, "titleAlign": "center", "titleBaseline": "alphabetic", "titleAngle": 0, "titleFont": "Liberation Serif", "titleFontSize": 25, "titleFontWeight": "bold", "titleColor": "#231815"}},
     "y": {"field": "y", "type": "quantitative", "axis": null},
     "color": {"field": "g", "type": "nominal"},
     "detail": {"field": "s"}}},
  {"transform": [{"filter": "datum.g == 'H'"}],
   "mark": {"type": "line", "strokeWidth": 1.1, "interpolate": "monotone", "clip": true},
   "encoding": {
     "x": {"field": "c", "type": "quantitative", "axis": {"orient": "top", "title": "Amplification Plot", "labels": false, "ticks": false, "domain": false, "grid": false, "titleX": 260, "titleY": -5, "titleAlign": "center", "titleBaseline": "alphabetic", "titleAngle": 0, "titleFont": "Liberation Sans", "titleFontSize": 7.5, "titleFontWeight": "normal", "titleColor": "#222"}},
     "y": {"field": "y", "type": "quantitative", "axis": {"orient": "left", "title": "C", "labels": false, "ticks": false, "domain": false, "grid": false, "titleX": -63, "titleY": -56, "titleAlign": "left", "titleBaseline": "alphabetic", "titleAngle": 0, "titleFont": "Liberation Sans", "titleFontSize": 17, "titleFontWeight": "bold", "titleColor": "#000"}},
     "color": {"field": "g", "type": "nominal"},
     "detail": {"field": "s"}}}
 ],
 "resolve": {"axis": {"x": "independent", "y": "independent"}}},
{"width": 530, "height": 242, "data": {"name": "tB"},
 "layer": [
  {"transform": [{"filter": "datum.g != 'G' && datum.g != 'H'"}],
   "mark": {"type": "line", "strokeWidth": 1.1, "interpolate": "monotone", "clip": true},
   "encoding": {
     "x": {"field": "c", "type": "quantitative", "scale": {"domain": [1, 40], "nice": false, "zero": false}, "axis": {"title": "Cycle", "values": [2,4,6,8,10,12,14,16,18,20,22,24,26,28,30,32,34,36,38,40]}},
     "y": {"field": "y", "type": "quantitative", "scale": {"domain": [-0.45, 8.4], "nice": false, "zero": false}, "axis": {"title": "ΔRn", "values": [0,0.5,1,1.5,2,2.5,3,3.5,4,4.5,5,5.5,6,6.5,7,7.5,8], "format": ".1f"}},
     "color": {"field": "g", "type": "nominal", "scale": {"domain": ["A","B","C","D","E","F","G","H"], "range": ["#e4572e","#d3c33d","#5db84b","#3aaa6b","#20a9d8","#2553a3","#6c3f98","#d81c79"]}, "legend": {"encode": {"symbols": {"update": {"strokeWidth": {"value": 7}, "opacity": {"value": 1}}}}}},
     "detail": {"field": "s"}}},
  {"transform": [{"filter": "datum.g == 'G'"}],
   "mark": {"type": "line", "strokeWidth": 1.1, "interpolate": "monotone", "clip": true},
   "encoding": {
     "x": {"field": "c", "type": "quantitative", "axis": null},
     "y": {"field": "y", "type": "quantitative", "axis": {"orient": "left", "title": "Mixed", "labels": false, "ticks": false, "domain": false, "grid": false, "titleX": -49, "titleY": 120, "titleAlign": "center", "titleBaseline": "alphabetic", "titleAngle": -90, "titleFont": "Liberation Serif", "titleFontSize": 26, "titleFontWeight": "bold", "titleColor": "#231815"}},
     "color": {"field": "g", "type": "nominal"},
     "detail": {"field": "s"}}},
  {"transform": [{"filter": "datum.g == 'H'"}],
   "mark": {"type": "line", "strokeWidth": 1.1, "interpolate": "monotone", "clip": true},
   "encoding": {
     "x": {"field": "c", "type": "quantitative", "axis": {"orient": "top", "title": "Amplification Plot", "labels": false, "ticks": false, "domain": false, "grid": false, "titleX": 265, "titleY": -6, "titleAlign": "center", "titleBaseline": "alphabetic", "titleAngle": 0, "titleFont": "Liberation Sans", "titleFontSize": 7.5, "titleFontWeight": "normal", "titleColor": "#222"}},
     "y": {"field": "y", "type": "quantitative", "axis": {"orient": "left", "title": "B", "labels": false, "ticks": false, "domain": false, "grid": false, "titleX": -86, "titleY": -18, "titleAlign": "left", "titleBaseline": "alphabetic", "titleAngle": 0, "titleFont": "Liberation Sans", "titleFontSize": 17, "titleFontWeight": "bold", "titleColor": "#000"}},
     "color": {"field": "g", "type": "nominal"},
     "detail": {"field": "s"}}}
 ],
 "resolve": {"axis": {"x": "independent", "y": "independent"}}},
{"width": 521, "height": 242, "data": {"name": "tD"},
 "layer": [
  {"transform": [{"filter": "datum.g != 'G' && datum.g != 'H'"}],
   "mark": {"type": "line", "strokeWidth": 1.1, "interpolate": "monotone", "clip": true},
   "encoding": {
     "x": {"field": "c", "type": "quantitative", "scale": {"domain": [1, 40], "nice": false, "zero": false}, "axis": {"title": "Cycle", "values": [2,4,6,8,10,12,14,16,18,20,22,24,26,28,30,32,34,36,38,40]}},
     "y": {"field": "y", "type": "quantitative", "scale": {"domain": [-0.0182, 0.2803], "nice": false, "zero": false}, "axis": {"title": "ΔRn", "values": [0,0.025,0.05,0.075,0.1,0.125,0.15,0.175,0.2,0.225,0.25,0.275], "format": ".3f"}},
     "color": {"field": "g", "type": "nominal", "scale": {"domain": ["A","B","C","D","E","F","G","H"], "range": ["#e4572e","#d3c33d","#5db84b","#3aaa6b","#20a9d8","#2553a3","#6c3f98","#d81c79"]}, "legend": {"encode": {"symbols": {"update": {"strokeWidth": {"value": 7}, "opacity": {"value": 1}}}}}},
     "detail": {"field": "s"}}},
  {"transform": [{"filter": "datum.g == 'G'"}],
   "mark": {"type": "line", "strokeWidth": 1.1, "interpolate": "monotone", "clip": true},
   "encoding": {
     "x": {"field": "c", "type": "quantitative", "axis": null},
     "y": {"field": "y", "type": "quantitative", "axis": null},
     "color": {"field": "g", "type": "nominal"},
     "detail": {"field": "s"}}},
  {"transform": [{"filter": "datum.g == 'H'"}],
   "mark": {"type": "line", "strokeWidth": 1.1, "interpolate": "monotone", "clip": true},
   "encoding": {
     "x": {"field": "c", "type": "quantitative", "axis": {"orient": "top", "title": "Amplification Plot", "labels": false, "ticks": false, "domain": false, "grid": false, "titleX": 260, "titleY": -5, "titleAlign": "center", "titleBaseline": "alphabetic", "titleAngle": 0, "titleFont": "Liberation Sans", "titleFontSize": 7.5, "titleFontWeight": "normal", "titleColor": "#222"}},
     "y": {"field": "y", "type": "quantitative", "axis": {"orient": "left", "title": "D", "labels": false, "ticks": false, "domain": false, "grid": false, "titleX": -63, "titleY": -18, "titleAlign": "left", "titleBaseline": "alphabetic", "titleAngle": 0, "titleFont": "Liberation Sans", "titleFontSize": 17, "titleFontWeight": "bold", "titleColor": "#000"}},
     "color": {"field": "g", "type": "nominal"},
     "detail": {"field": "s"}}}
 ],
 "resolve": {"axis": {"x": "independent", "y": "independent"}}}
],
"resolve": {"scale": {"color": "independent"}, "legend": {"color": "independent"}},
"config": {
  "view": {"stroke": "#b5b5b5", "strokeWidth": 1},
  "axis": {"labelFont": "Liberation Sans", "titleFont": "Liberation Sans", "labelColor": "#333", "titleColor": "#222", "titleFontWeight": "normal", "grid": true, "gridColor": "#cfcfcf", "gridDash": [2, 2], "gridWidth": 0.8, "domainColor": "#777", "tickColor": "#777", "tickSize": 3, "labelPadding": 2},
  "axisX": {"labelFontSize": 5.5, "titleFontSize": 8, "titlePadding": 4},
  "axisY": {"labelFontSize": 7, "titleFontSize": 7, "titlePadding": 4},
  "legend": {"orient": "bottom", "direction": "horizontal", "title": null, "symbolType": "square", "symbolSize": 42, "symbolStrokeWidth": 7, "symbolOpacity": 1, "labelFont": "Liberation Sans", "labelFontSize": 16, "labelFontStyle": "italic", "labelColor": "#333", "labelOffset": 6, "columnPadding": -5, "offset": 2, "columns": 8}
}
}
